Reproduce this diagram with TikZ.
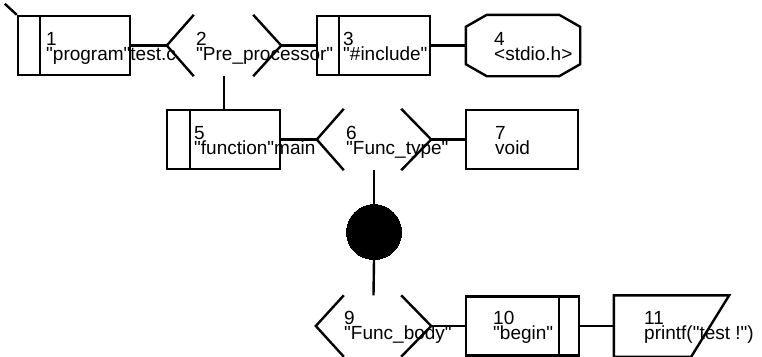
\documentclass[tikz,border=0pt]{standalone}
\usepackage{fontspec}
\newfontfamily\lblfont{Liberation Sans}
\newcommand\twolines[2]{\vtop{\lineskiplimit=-50pt\relax\baselineskip=15pt\relax\hbox{#1}\hbox{#2}}}
\begin{document}
\begin{tikzpicture}[x=1pt,y=-1pt,line width=2.4pt,
  sbox/.style={draw,rectangle,minimum width=#1,minimum height=59,inner sep=0pt},
  ghost/.style={rectangle,minimum width=#1,minimum height=59,inner sep=0pt},
  lbl/.style={anchor=base west,inner sep=0pt,font=\lblfont\fontsize{19}{15}\selectfont},
  dot/.style={circle,fill=black,draw=black,line width=0pt,minimum size=55,inner sep=0pt}]
\useasboundingbox (0,0) rectangle (762,356);
% row 1
\node[sbox=112] (b1) at (74,45.5) {};
\draw ([xshift=23pt]b1.north west) -- ([xshift=23pt]b1.south west);
\draw (b1.north west) -- ++(-12,-11);
\node[ghost=112] (c2) at (224,45.5) {};
\draw ([xshift=27pt]c2.north west) -- (c2.west) -- ([xshift=27pt]c2.south west);
\draw ([xshift=-28pt]c2.north east) -- (c2.east) -- ([xshift=-28pt]c2.south east);
\node[sbox=113] (b3) at (373.5,45.5) {};
\draw ([xshift=23pt]b3.north west) -- ([xshift=23pt]b3.south west);
\node[ghost=112] (o4) at (523,45.5) {};
\draw ([xshift=21pt]o4.north west) -- ([xshift=-21pt]o4.north east)
  -- ([yshift=-12pt]o4.north east) -- ([yshift=12pt]o4.south east)
  -- ([xshift=-21pt]o4.south east) -- ([xshift=21pt]o4.south west)
  -- ([yshift=12pt]o4.south west) -- ([yshift=-12pt]o4.north west) -- cycle;
% row 2
\node[sbox=113] (b5) at (223.5,139.5) {};
\draw ([xshift=24pt]b5.north west) -- ([xshift=24pt]b5.south west);
\node[ghost=112] (c6) at (374,139.5) {};
\draw ([xshift=27pt]c6.north west) -- (c6.west) -- ([xshift=27pt]c6.south west);
\draw ([xshift=-30pt]c6.north east) -- (c6.east) -- ([xshift=-30pt]c6.south east);
\node[sbox=112] (b7) at (522,139.5) {};
% circle
\node[dot] (d8) at (374,232) {};
% row 3
\node[ghost=113] (c9) at (373.5,326) {};
\draw ([xshift=28pt]c9.north west) -- (c9.west) -- ([xshift=28pt]c9.south west);
\draw ([xshift=-30pt]c9.north east) -- (c9.east) -- ([xshift=-30pt]c9.south east);
\node[sbox=113] (b10) at (522.5,326) {};
\draw ([xshift=-21pt]b10.north east) -- ([xshift=-21pt]b10.south east);
\node[ghost=113] (b11) at (671.5,326) {};
\draw (b11.north west) -- (b11.north east) -- ([xshift=-38pt]b11.south east) -- (b11.south west) -- cycle;
% connectors
\draw (b1.east) -- (c2.west);
\draw (c2.east) -- (b3.west);
\draw (b3.east) -- (o4.west);
\draw (c2.south) -- (c2.south |- b5.north);
\draw (b5.east) -- (c6.west);
\draw (c6.east) -- (b7.west);
\draw (c6.south) -- (d8.north);
\draw (d8.south) -- (c9.north);
\draw (c9.east) -- (b10.west);
\draw (b10.east) -- (b11.west);
% labels
\node[lbl] (t1) at (45,45) {\twolines{1}{"program"test.c}};
\node[lbl] (t2) at (195,45) {\twolines{2}{"Pre\_processor"}};
\node[lbl] (t3) at (342,45) {\twolines{3}{"\#include"}};
\node[lbl] (t4) at (493,45) {\twolines{4}{<stdio.h>}};
\node[lbl] (t5) at (193,139) {\twolines{5}{"function"main}};
\node[lbl] (t6) at (345,139) {\twolines{6}{"Func\_type"}};
\node[lbl] (t7) at (494,139) {\twolines{7}{void}};
\node[lbl] (t9) at (343,324) {\twolines{9}{"Func\_body"}};
\node[lbl] (t10) at (492,324) {\twolines{10}{"begin"}};
\node[lbl] (t11) at (643,324) {\twolines{11}{printf("test !")}};
\end{tikzpicture}
\end{document}
